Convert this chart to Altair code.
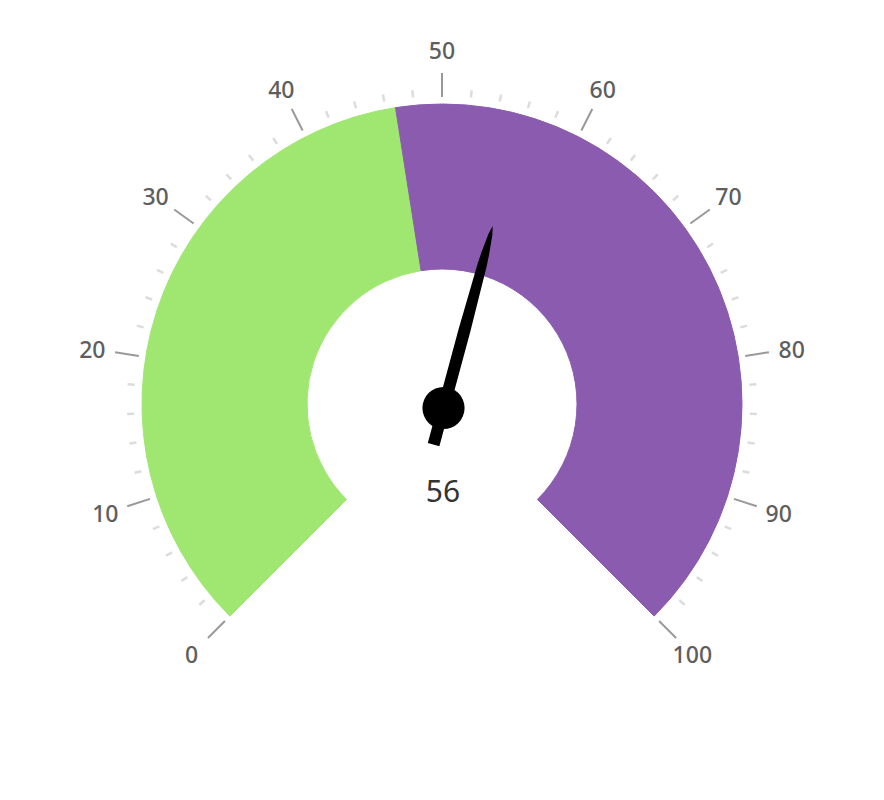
import math
import altair as alt
import pandas as pd

# ---------------- data ----------------
band_start = [0, 46.7]
band_end = [46.7, 100]
band_color = ["#a0e772", "#8b5baf"]

major_values = [0, 10, 20, 30, 40, 50, 60, 70, 80, 90, 100]
minor_values = [v for v in range(0, 101, 2) if v % 10 != 0]

gauge_value = [55.6]

# ---------------- layout constants ----------------
W, H = 868, 784
CX, CY = 434, 396          # gauge centre (plot px)
PX, PY = 435.5, 400        # pointer pivot (plot px)
R_OUT, R_IN = 300, 135
START_DEG, SWEEP_DEG = -135, 270
FONT = "Noto Sans"

ANG = f"({START_DEG} + datum.v * {SWEEP_DEG / 100}) * PI / 180"

xs = alt.Scale(domain=[0, W], range=[0, W], nice=False, zero=False)
ys = alt.Scale(domain=[0, H], reverse=True, nice=False, zero=False)


def X(f):
    return alt.X(f"{f}:Q", scale=xs, axis=None)


def Y(f):
    return alt.Y(f"{f}:Q", scale=ys, axis=None)


def X2(f):
    return alt.X2(f"{f}:Q")


def Y2(f):
    return alt.Y2(f"{f}:Q")


# ---------------- bands ----------------
bands = pd.DataFrame({"s": band_start, "e": band_end, "c": band_color})
band_layer = alt.Chart(bands).mark_arc(radius=R_OUT, radius2=R_IN).encode(
    theta=alt.Theta("s:Q", scale=alt.Scale(domain=[0, 100],
                                           range=[math.radians(START_DEG),
                                                  math.radians(START_DEG + SWEEP_DEG)])),
    theta2=alt.Theta2("e:Q"),
    x=alt.value(CX),
    y=alt.value(CY),
    color=alt.Color("c:N", scale=None),
    stroke=alt.Color("c:N", scale=None),
)


def tick_layer(values, r1, r2, color, width):
    df = pd.DataFrame({"v": values})
    return alt.Chart(df).transform_calculate(
        a=ANG
    ).transform_calculate(
        x1=f"{CX} + {r1} * sin(datum.a)",
        y1=f"{CY} - {r1} * cos(datum.a)",
        x2=f"{CX} + {r2} * sin(datum.a)",
        y2=f"{CY} - {r2} * cos(datum.a)",
    ).mark_rule(color=color, strokeWidth=width, strokeCap="butt").encode(
        x=X("x1"), y=Y("y1"), x2=X2("x2"), y2=Y2("y2")
    )


minor_layer = tick_layer(minor_values, 308, 315, "#dcdcdc", 2.5)
major_layer = tick_layer(major_values, 307, 331, "#999999", 2)

label_layer = alt.Chart(pd.DataFrame({"v": major_values})).transform_calculate(
    a=ANG
).transform_calculate(
    lx=f"{CX} + 354 * sin(datum.a)",
    ly=f"{CY + 2} - 354 * cos(datum.a)",
).mark_text(font=FONT, fontSize=23, fontWeight=500, color="#5e5e5e",
            align="center", baseline="middle").encode(
    x=X("lx"), y=Y("ly"), text=alt.Text("v:Q", format="d")
)

# ---------------- pointer ----------------
needle_d = [0, 80, 148, 160, 180, 188]
needle_w = [12, 12, 9.5, 8, 4, 0.3]
vdf = pd.DataFrame({"v": gauge_value})

needle_layer = alt.Chart(vdf).transform_calculate(
    a=ANG
).transform_calculate(
    pts=f"[{','.join(str(d) for d in needle_d)}]",
    ws=f"[{','.join(str(w) for w in needle_w)}]",
).transform_calculate(
    idx=f"[{','.join(str(i) for i in range(len(needle_d)))}]"
).transform_flatten(["idx"]).transform_calculate(
    d="datum.pts[datum.idx]",
    w="datum.ws[datum.idx]",
).transform_calculate(
    nx=f"{PX} + datum.d * sin(datum.a)",
    ny=f"{PY} - datum.d * cos(datum.a)",
).mark_trail(color="#000000").encode(
    x=X("nx"), y=Y("ny"),
    size=alt.Size("w:Q", scale=None, legend=None),
    order=alt.Order("d:Q"),
)

tail_layer = alt.Chart(vdf).transform_calculate(
    a=ANG
).transform_calculate(
    tx1=f"{PX}",
    ty1=f"{PY}",
    tx2=f"{PX} - 38 * sin(datum.a)",
    ty2=f"{PY} + 38 * cos(datum.a)",
).mark_rule(color="#000000", strokeWidth=12, strokeCap="butt").encode(
    x=X("tx1"), y=Y("ty1"), x2=X2("tx2"), y2=Y2("ty2")
)

anchor_layer = alt.Chart(vdf).mark_circle(
    color="#000000", opacity=1, size=math.pi * 23.8 ** 2
).encode(x=alt.value(PX), y=alt.value(PY))

value_layer = alt.Chart(vdf).mark_text(
    font=FONT, fontSize=30, color="#333333", align="center", baseline="middle"
).encode(
    x=alt.value(CX + 1), y=alt.value(CY + 89),
    text=alt.Text("v:Q", format=".0f"),
)

chart = alt.layer(
    band_layer, minor_layer, major_layer, label_layer,
    tail_layer, needle_layer, anchor_layer, value_layer
).properties(
    width=W, height=H, padding=0, autosize=alt.AutoSizeParams(type="none")
).configure_view(stroke=None)

chart.save("out.html", embed_options={"renderer": "svg", "actions": False})
